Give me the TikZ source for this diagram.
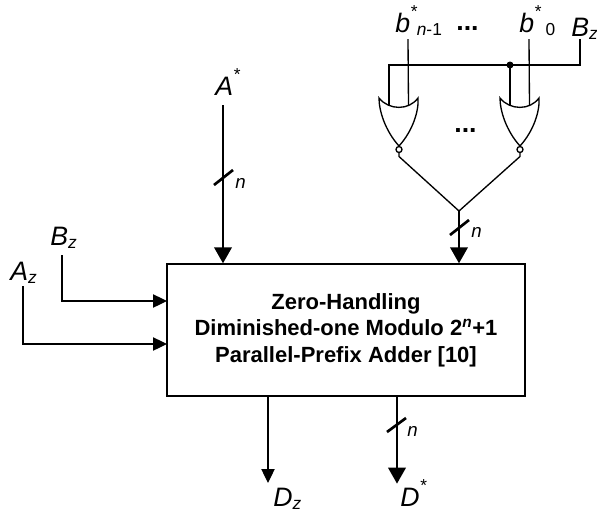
\documentclass[tikz,border=0pt]{standalone}
\usepackage{fontspec}
\setmainfont{Liberation Sans}
\usetikzlibrary{positioning,arrows.meta}
\newcommand{\starmark}{\raisebox{11pt}{\fontsize{13}{13}\selectfont *}}
\newcommand{\lowsub}[1]{\raisebox{-2.5pt}{\fontsize{13}{13}\selectfont #1}}

\begin{document}
\begin{tikzpicture}[
  x=0.75pt,y=-0.75pt,
  every node/.style={font=\fontsize{20}{20}\selectfont\itshape,inner sep=0pt,anchor=base west},
  adder/.style={draw=black,line width=2pt,minimum width=268.5pt,minimum height=99pt,align=center,fill=white,anchor=center,font=\fontsize{16.5}{20}\selectfont\bfseries},
  busarrow/.style={-{Triangle[length=12pt,width=13pt]},line width=2pt,draw=black,shorten >=-0.5pt},
  sigarrow/.style={-{Triangle[length=10.5pt,width=10pt]},line width=0.9pt,draw=black},
  wire/.style={line width=1pt,draw=black},
  tick/.style={line width=2pt,draw=black},
  nlabel/.style={font=\fontsize{14}{14}\selectfont\itshape},
  dots/.style={font=\fontsize{20}{20}\selectfont\bfseries,anchor=center},
  norgate/.pic={
    \draw[line width=1pt] (-20,-24.5) .. controls (-10,-12) and (10,-12) .. (19,-24.5)
      .. controls (20,-12) and (14,8) .. (0,23.5)
      .. controls (-14,8) and (-20,-12) .. cycle;
    \draw[line width=1pt] (0,27) circle (3);
    \coordinate (-in a) at (-10,-17.5);
    \coordinate (-in b) at (9.5,-17.5);
    \coordinate (-out) at (0,30);
  }
]
\useasboundingbox (0,0) rectangle (597,512);
% adder
\node[adder] (add) at (346,330) {Zero-Handling\\Diminished-one Modulo 2\textsuperscript{\textit{n}}+1\\Parallel-Prefix Adder [10]};
% gates
\pic (g1) at (399,122.5) {norgate};
\pic (g2) at (520,122.5) {norgate};
\node[dots] (gdots) at (465.5,131) {...};
\node[dots] (tdots) at (467.5,29) {...};
% labels
\node (astar) at (215,95) {A\starmark};
\node (bn) at (395,32) {b\starmark\lowsub{\itshape n\upshape -1}};
\node (b0) at (519,32) {b\starmark\lowsub{\upshape\ 0}};
\node (bztop) at (571,36) {B\lowsub{z}};
\node (bzleft) at (50,245) {B\lowsub{z}};
\node (azleft) at (10,280) {A\lowsub{z}};
\node (dz) at (273,506) {D\lowsub{z}};
\node (dstar) at (400,506) {D\starmark};
% free ends
\coordinate (bnin) at (408,39);
\coordinate (b0in) at (529,39);
\coordinate (bzin) at (580,39);
\coordinate (bzbus) at (580,65);
\coordinate (bzl) at (389,65);
\coordinate (dot) at (510,65);
\coordinate (merge) at (459,211);
\coordinate (aend) at (223,105);
\coordinate (bzs) at (62,255);
\coordinate (azs) at (23,286);
\coordinate (bzt) at (167,301);
\coordinate (azt) at (167,344);
\coordinate (dzt) at (268,483);
\coordinate (dst) at (397,483);
% gate inputs
\draw[wire] (bnin)--(g1-in b);
\draw[wire] (b0in)--(g2-in b);
\draw[wire] (bzin)--(bzbus)--(bzl)--(g1-in a);
\draw[line width=1.5pt] (dot)--(g2-in a);
\fill (dot) circle (3.5);
% gate outputs
\draw[wire] (g1-out)--++(0,4)--(merge);
\draw[wire] (g2-out)--++(0,4)--(merge);
% buses
\draw[busarrow] (aend)--(aend|-add.north);
\draw[busarrow] (merge)--(merge|-add.north);
\draw[busarrow] (add.south-|dst)--(dst);
\draw[sigarrow] (add.south-|dzt)--(dzt);
\draw[sigarrow] (bzs)|-(bzt);
\draw[sigarrow] (azs)|-(azt);
% width ticks
\draw[tick] (214,185)--(233,170);
\draw[tick] (450,235)--(469,220);
\draw[tick] (387,432)--(406,418);
\node[nlabel] (na) at (235,188) {n};
\node[nlabel] (nb) at (471,237) {n};
\node[nlabel] (nd) at (407,436) {n};
\end{tikzpicture}
\end{document}
